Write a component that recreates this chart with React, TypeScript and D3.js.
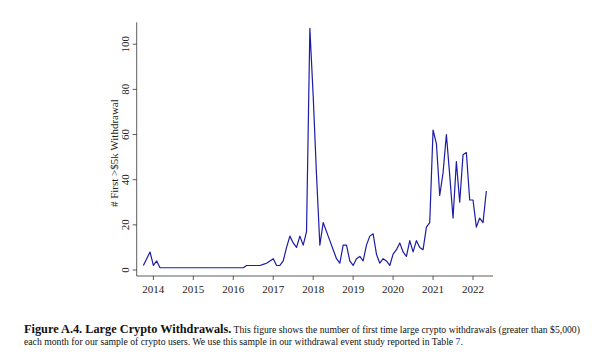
import React from "react";
import * as d3 from "d3";

const startYear = 2013;
const startMonth = 10; // October 2013
const values: number[] = [
  // 2013 Oct-Dec
  2, 5, 8,
  // 2014
  2, 4, 1, 1, 1, 1, 1, 1, 1, 1, 1, 1,
  // 2015
  1, 1, 1, 1, 1, 1, 1, 1, 1, 1, 1, 1,
  // 2016
  1, 1, 1, 1, 2, 2, 2, 2, 2, 2.5, 3, 4,
  // 2017
  5, 2, 2, 4, 10, 15, 12, 10, 15, 11, 17, 107,
  // 2018
  77, 42, 11, 21, 17, 13, 9, 5, 3, 11, 11, 4,
  // 2019
  2, 5, 6, 4, 11, 15, 16, 7, 3, 5, 4, 2,
  // 2020
  7, 9, 12, 8, 6, 13, 8, 13, 10, 9, 19, 21,
  // 2021
  62, 56, 33, 43, 60, 42, 23, 48, 30, 51, 52, 31,
  // 2022 Jan-May
  31, 19, 23, 21, 35,
];
const xTicks = [2014, 2015, 2016, 2017, 2018, 2019, 2020, 2021, 2022];
const yTicks = [0, 20, 40, 60, 80, 100];
const yLabel = "# First >$5k Withdrawal";

const points = values.map((v, i) => ({
  t: startYear + (startMonth - 1 + i) / 12,
  v,
}));

export default function App() {
  const W = 600, H = 359;
  const x = d3.scaleLinear().domain([2013.583, 2022.5]).range([136.7, 493]);
  const y = d3.scaleLinear().domain([-2.66, 109.7]).range([276, 22.3]);
  const line = d3
    .line<{ t: number; v: number }>()
    .x((d) => x(d.t))
    .y((d) => y(d.v));
  const font = "'Liberation Serif', 'Times New Roman', serif";
  const [x0, x1] = x.range();
  const [yb, yt] = y.range();
  return (
    <svg width={W} height={H} style={{ position: "absolute", left: 0, top: 0, background: "#fff" }} fontFamily={font}>
      <rect width={W} height={H} fill="#fff" />
      {/* axes */}
      <line x1={x0} x2={x0} y1={yb} y2={yt} stroke="#333" strokeWidth={0.8} />
      <line x1={x0} x2={x1} y1={yb} y2={yb} stroke="#333" strokeWidth={0.8} />
      {yTicks.map((t) => (
        <g key={t}>
          <line x1={x0 - 4} x2={x0} y1={y(t)} y2={y(t)} stroke="#333" strokeWidth={0.8} />
          <text
            transform={`translate(${129},${y(t)}) rotate(-90)`}
            textAnchor="middle"
            fontSize={11}
            fill="#222"
          >
            {t}
          </text>
        </g>
      ))}
      {xTicks.map((t) => (
        <g key={t}>
          <line x1={x(t)} x2={x(t)} y1={yb} y2={yb + 4} stroke="#333" strokeWidth={0.8} />
          <text x={x(t)} y={yb + 17} textAnchor="middle" fontSize={11} fill="#222">
            {t}
          </text>
        </g>
      ))}
      <text
        transform={`translate(${118},${(yb + yt) / 2 + 4}) rotate(-90)`}
        textAnchor="middle"
        fontSize={11}
        fill="#222"
      >
        {yLabel}
      </text>
      <path d={line(points) || ""} fill="none" stroke="#1c1ca8" strokeWidth={1.2} strokeLinejoin="round" />
      {/* caption */}
      <text x={24} y={333} fontSize={9.7} fill="#111">
        <tspan fontWeight="bold" fontSize={12.3}>Figure A.4. Large Crypto Withdrawals.</tspan>
        <tspan> This figure shows the number of first time large crypto withdrawals (greater than $5,000)</tspan>
      </text>
      <text x={24} y={345} fontSize={9.7} fill="#111">
        each month for our sample of crypto users. We use this sample in our withdrawal event study reported in Table <tspan fill="#2233aa">7</tspan>.
      </text>
    </svg>
  );
}
